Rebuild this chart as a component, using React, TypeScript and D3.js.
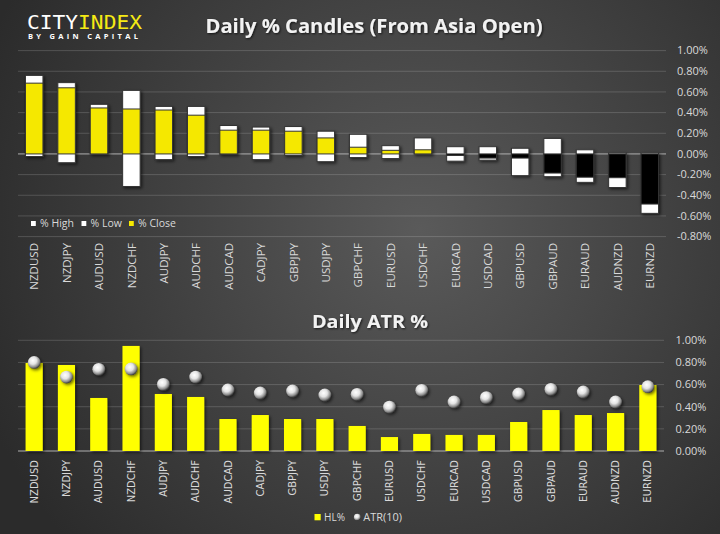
import React, { useEffect, useRef } from "react";
import * as d3 from "d3";

// Currency pairs, sorted by close %
const pairs = [
  "NZDUSD", "NZDJPY", "AUDUSD", "NZDCHF", "AUDJPY", "AUDCHF", "AUDCAD", "CADJPY", "GBPJPY", "USDJPY",
  "GBPCHF", "EURUSD", "USDCHF", "EURCAD", "USDCAD", "GBPUSD", "GBPAUD", "EURAUD", "AUDNZD", "EURNZD",
];

// Daily % candles (from Asia open)
const highPct = [0.76, 0.69, 0.48, 0.615, 0.46, 0.46, 0.275, 0.26, 0.265, 0.22, 0.19, 0.08, 0.155, 0.07, 0.07, 0.055, 0.15, 0.04, 0.01, 0.01];
const lowPct = [-0.025, -0.085, 0, -0.315, -0.055, -0.025, -0.005, -0.055, -0.015, -0.075, -0.035, -0.045, 0, -0.07, -0.06, -0.21, -0.22, -0.275, -0.325, -0.575];
const closePct = [0.685, 0.64, 0.445, 0.435, 0.425, 0.375, 0.23, 0.23, 0.22, 0.155, 0.065, 0.035, 0.04, -0.015, -0.04, -0.04, -0.185, -0.225, -0.23, -0.485];

// Daily ATR %
const hlPct = [0.795, 0.777, 0.479, 0.949, 0.515, 0.488, 0.289, 0.325, 0.289, 0.289, 0.226, 0.126, 0.154, 0.145, 0.145, 0.262, 0.37, 0.325, 0.343, 0.596];
const atrPct = [0.8, 0.668, 0.738, 0.741, 0.602, 0.668, 0.551, 0.524, 0.542, 0.506, 0.512, 0.397, 0.548, 0.443, 0.482, 0.515, 0.557, 0.533, 0.443, 0.581];

const candleTicks = [1.0, 0.8, 0.6, 0.4, 0.2, 0, -0.2, -0.4, -0.6, -0.8];
const atrTicks = [1.0, 0.8, 0.6, 0.4, 0.2, 0];

const W = 720;
const H = 534;
const labelColor = "#d9d9d9";
const gridColor = "rgba(255,255,255,0.16)";
const font = "'Open Sans', 'Noto Sans', sans-serif";

export default function App() {
  const svgRef = useRef<SVGSVGElement>(null);

  useEffect(() => {
    if (!svgRef.current) return;
    const svg = d3.select(svgRef.current);
    svg.selectAll("*").remove();
    svg.attr("width", W).attr("height", H);

    const defs = svg.append("defs");
    const bg = defs
      .append("radialGradient")
      .attr("id", "bg")
      .attr("gradientUnits", "userSpaceOnUse")
      .attr("cx", 420)
      .attr("cy", 230)
      .attr("r", 470);
    bg.append("stop").attr("offset", "0").attr("stop-color", "#5a5a5a");
    bg.append("stop").attr("offset", "1").attr("stop-color", "#2b2b2b");

    const sphere = defs
      .append("radialGradient")
      .attr("id", "sphere")
      .attr("cx", "0.4")
      .attr("cy", "0.35")
      .attr("r", "0.65");
    sphere.append("stop").attr("offset", "0").attr("stop-color", "#ffffff");
    sphere.append("stop").attr("offset", "0.45").attr("stop-color", "#e4e4e4");
    sphere.append("stop").attr("offset", "0.8").attr("stop-color", "#8c8c8c");
    sphere.append("stop").attr("offset", "1").attr("stop-color", "#3c3c3c");

    const shadow = defs.append("filter").attr("id", "shadow").attr("x", "-50%").attr("y", "-50%").attr("width", "200%").attr("height", "200%");
    shadow
      .append("feDropShadow")
      .attr("dx", 1.5)
      .attr("dy", 1.5)
      .attr("stdDeviation", 1.6)
      .attr("flood-color", "#000")
      .attr("flood-opacity", 0.6);

    const textShadow = defs.append("filter").attr("id", "tshadow");
    textShadow
      .append("feDropShadow")
      .attr("dx", 1)
      .attr("dy", 1)
      .attr("stdDeviation", 0.8)
      .attr("flood-color", "#000")
      .attr("flood-opacity", 0.7);

    svg.append("rect").attr("width", W).attr("height", H).attr("fill", "url(#bg)");

    // Logo
    svg
      .append("text")
      .attr("x", 27)
      .attr("y", 28.5)
      .attr("font-family", "'DejaVu Sans Mono', monospace")
      .attr("font-size", 20)
      .attr("textLength", 115)
      .attr("lengthAdjust", "spacingAndGlyphs")
      .call((t) => {
        t.append("tspan").attr("fill", "#ffffff").text("CITY");
        t.append("tspan").attr("fill", "#f5ea14").text("INDEX");
      });
    svg
      .append("text")
      .attr("x", 28)
      .attr("y", 39)
      .attr("font-family", font)
      .attr("font-weight", "bold")
      .attr("font-size", 7.5)
      .attr("fill", "#ffffff")
      .attr("textLength", 110)
      .attr("lengthAdjust", "spacing")
      .text("BY GAIN CAPITAL");

    // ---------- Top chart: Daily % Candles ----------
    svg
      .append("text")
      .attr("x", 374)
      .attr("y", 33.3)
      .attr("text-anchor", "middle")
      .attr("font-family", font)
      .attr("font-weight", "bold")
      .attr("font-size", 19.5)
      .attr("fill", "#f2f2f2")
      .attr("textLength", 337)
      .attr("lengthAdjust", "spacingAndGlyphs")
      .attr("filter", "url(#tshadow)")
      .text("Daily % Candles (From Asia Open)");

    const x1 = d3.scaleBand<string>().domain(pairs).range([18, 666]).paddingInner(0.46).paddingOuter(0.23);
    const y1 = d3.scaleLinear().domain([-0.8, 1.0]).range([236.6, 50.6]);

    const g1 = svg.append("g");
    candleTicks.forEach((t) => {
      g1.append("line")
        .attr("x1", 18)
        .attr("x2", 666)
        .attr("y1", y1(t))
        .attr("y2", y1(t))
        .attr("stroke", t === 0 ? "#b0b0b0" : gridColor)
        .attr("stroke-width", 1);
      g1.append("text")
        .attr("x", 677)
        .attr("y", y1(t))
        .attr("dy", "0.35em")
        .attr("font-family", font)
        .attr("font-size", 11)
        .attr("fill", labelColor)
        .text(`${t.toFixed(2)}%`);
    });

    pairs.forEach((p, i) => {
      const bx = x1(p)!;
      const bw = x1.bandwidth();
      const cg = g1.append("g").attr("filter", "url(#shadow)");
      cg.append("rect")
        .attr("x", bx)
        .attr("y", y1(highPct[i]))
        .attr("width", bw)
        .attr("height", y1(lowPct[i]) - y1(highPct[i]))
        .attr("fill", "#ffffff")
        .attr("stroke", "#333")
        .attr("stroke-width", 1);
      const c = closePct[i];
      cg.append("rect")
        .attr("x", bx)
        .attr("y", y1(Math.max(c, 0)))
        .attr("width", bw)
        .attr("height", Math.abs(y1(c) - y1(0)))
        .attr("fill", c >= 0 ? "#f5e800" : "#000000")
        .attr("stroke", "#333")
        .attr("stroke-width", 1);

      g1.append("text")
        .attr("transform", `translate(${bx + bw / 2},243) rotate(-90)`)
        .attr("text-anchor", "end")
        .attr("dy", "0.36em")
        .attr("font-family", font)
        .attr("font-size", 11.5)
        .attr("fill", labelColor)
        .text(p);
    });

    const legend1 = [
      { label: "% High", color: "#ffffff", x: 31 },
      { label: "% Low", color: "#ffffff", x: 81.5 },
      { label: "% Close", color: "#f5e800", x: 129 },
    ];
    legend1.forEach((l) => {
      g1.append("rect").attr("x", l.x).attr("y", 221).attr("width", 4.8).attr("height", 5).attr("fill", l.color);
      g1.append("text")
        .attr("x", l.x + 9)
        .attr("y", 227.3)
        .attr("font-family", font)
        .attr("font-size", 10.5)
        .attr("fill", labelColor)
        .text(l.label);
    });

    // ---------- Bottom chart: Daily ATR % ----------
    svg
      .append("text")
      .attr("x", 370)
      .attr("y", 328.3)
      .attr("text-anchor", "middle")
      .attr("font-family", font)
      .attr("font-weight", "bold")
      .attr("font-size", 18.5)
      .attr("fill", "#f2f2f2")
      .attr("textLength", 116)
      .attr("lengthAdjust", "spacingAndGlyphs")
      .attr("filter", "url(#tshadow)")
      .text("Daily ATR %");

    const x2 = d3.scaleBand<string>().domain(pairs).range([18, 664]).paddingInner(0.47).paddingOuter(0.235);
    const y2 = d3.scaleLinear().domain([0, 1]).range([451, 340.3]);
    const g2 = svg.append("g");

    atrTicks.forEach((t) => {
      g2.append("line")
        .attr("x1", 18)
        .attr("x2", 664)
        .attr("y1", y2(t))
        .attr("y2", y2(t))
        .attr("stroke", t === 0 ? "#b0b0b0" : gridColor)
        .attr("stroke-width", 1);
      g2.append("text")
        .attr("x", 675.5)
        .attr("y", y2(t))
        .attr("dy", "0.35em")
        .attr("font-family", font)
        .attr("font-size", 11)
        .attr("fill", labelColor)
        .text(`${t.toFixed(2)}%`);
    });

    pairs.forEach((p, i) => {
      g2.append("rect")
        .attr("x", x2(p)!)
        .attr("y", y2(hlPct[i]))
        .attr("width", x2.bandwidth())
        .attr("height", y2(0) - y2(hlPct[i]))
        .attr("fill", "#ffff00")
        .attr("filter", "url(#shadow)");
      g2.append("text")
        .attr("transform", `translate(${x2(p)! + x2.bandwidth() / 2},460) rotate(-90)`)
        .attr("text-anchor", "end")
        .attr("dy", "0.36em")
        .attr("font-family", "'DejaVu Sans', sans-serif")
        .attr("font-size", 10)
        .attr("fill", labelColor)
        .text(p);
    });

    pairs.forEach((p, i) => {
      g2.append("circle")
        .attr("cx", x2(p)! + x2.bandwidth() / 2)
        .attr("cy", y2(atrPct[i]))
        .attr("r", 6.4)
        .attr("fill", "url(#sphere)")
        .attr("filter", "url(#shadow)");
    });

    // Bottom legend
    g2.append("rect").attr("x", 314.5).attr("y", 514).attr("width", 6.2).attr("height", 6.3).attr("fill", "#ffff00");
    g2.append("text")
      .attr("x", 324)
      .attr("y", 520.5)
      .attr("font-family", font)
      .attr("font-size", 10.5)
      .attr("fill", labelColor)
      .attr("textLength", 21)
      .attr("lengthAdjust", "spacingAndGlyphs")
      .text("HL%");
    g2.append("circle").attr("cx", 357.3).attr("cy", 517.2).attr("r", 3.4).attr("fill", "url(#sphere)");
    g2.append("text")
      .attr("x", 363.3)
      .attr("y", 520.5)
      .attr("font-family", font)
      .attr("font-size", 10.5)
      .attr("fill", labelColor)
      .attr("textLength", 38.7)
      .attr("lengthAdjust", "spacingAndGlyphs")
      .text("ATR(10)");
  }, []);

  return (
    <div style={{ position: "absolute", left: 0, top: 0, width: W, height: H }}>
      <svg ref={svgRef} style={{ display: "block" }} />
    </div>
  );
}
